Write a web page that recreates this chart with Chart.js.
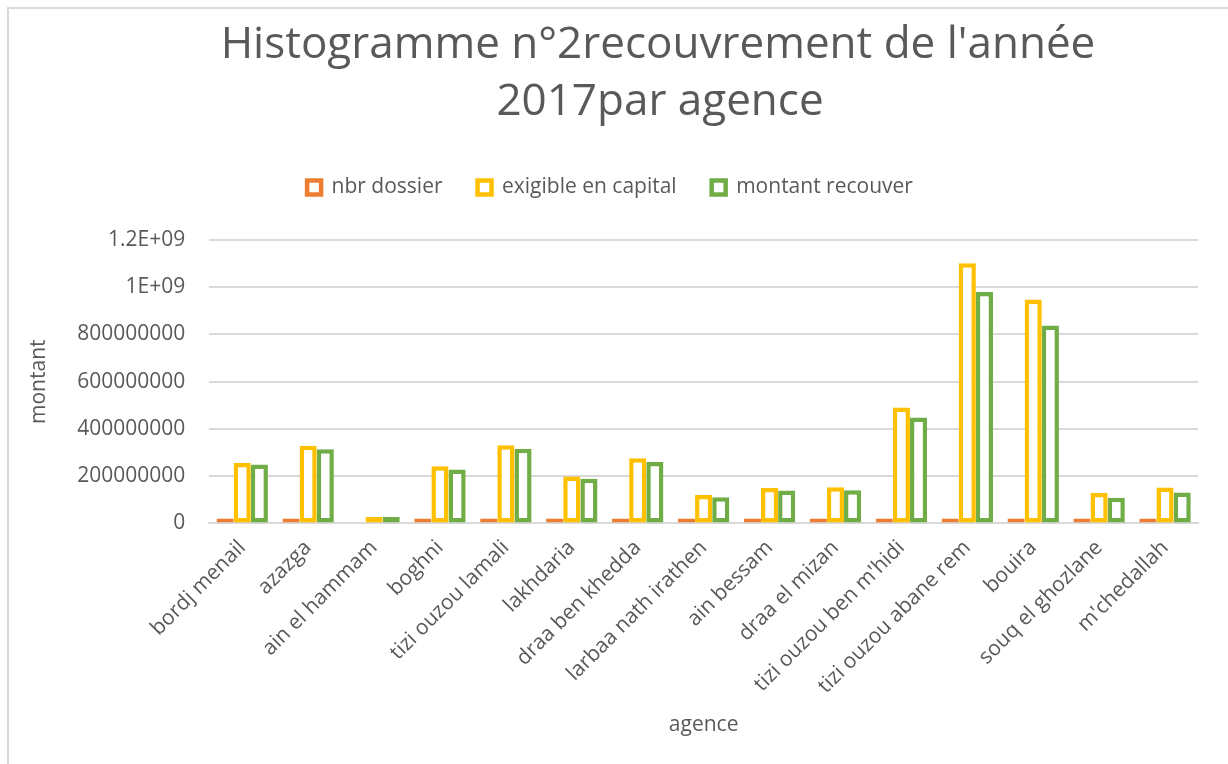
<!DOCTYPE html>
<html>
<head>
  <meta charset="utf-8">
  <title>Histogramme n°2 recouvrement 2017 par agence</title>
  <script src="https://cdn.jsdelivr.net/npm/chart.js@4.4.1/dist/chart.umd.min.js"></script>
  <style>
    html, body { margin: 0; padding: 0; background: #fff; }
    .chart-frame {
      position: absolute;
      left: 7px;
      top: 7px;
      width: 1221px;
      height: 757px;
      border-left: 2px solid #d9d9d9;
      border-top: 2px solid #d9d9d9;
      box-sizing: border-box;
    }
    .chart-box {
      position: absolute;
      left: 0;
      top: 0;
      width: 1228px;
      height: 764px;
    }
  </style>
</head>
<body>
  <div class="chart-frame"></div>
  <div class="chart-box">
    <canvas id="recouvrementChart"></canvas>
  </div>

  <script>
    // Agences (categories)
    const agences = [
      'bordj menail', 'azazga', 'ain el hammam', 'boghni', 'tizi ouzou lamali',
      'lakhdaria', 'draa ben khedda', 'larbaa nath irathen', 'ain bessam',
      'draa el mizan', "tizi ouzou ben m'hidi", 'tizi ouzou abane rem',
      'bouira', 'souq el ghozlane', "m'chedallah"
    ];

    // nbr dossier: counts, far too small to read on this scale (null = no bar)
    const nbrDossier = [350, 400, null, 300, 420, 280, 360, 220, 240, 250, 480, 700, 650, 230, 260];

    // exigible en capital
    const exigibleCapital = [
      256000000, 329000000, 27000000, 242000000, 331000000,
      199000000, 276000000, 120000000, 150000000, 153000000,
      491000000, 1102000000, 948000000, 129000000, 152000000
    ];

    // montant recouver
    const montantRecouver = [
      250000000, 314000000, 27000000, 228000000, 316000000,
      189000000, 260000000, 111000000, 139000000, 141000000,
      448000000, 980000000, 838000000, 109000000, 131000000
    ];

    const yTicks = [0, 200000000, 400000000, 600000000, 800000000, 1000000000, 1200000000];

    const titleLines = ["Histogramme n°2recouvrement de l'année", '2017par agence'];

    const textGray = '#595959';
    const gridGray = '#d9d9d9';
    const fontFamily = '"Open Sans", "Noto Sans", sans-serif';

    // Excel "General" number format: big numbers turn into scientific notation
    function excelGeneral(v) {
      if (Math.abs(v) >= 1e9) {
        const exp = Math.floor(Math.log10(Math.abs(v)));
        const mant = +(v / Math.pow(10, exp)).toFixed(2);
        return mant + 'E+' + String(exp).padStart(2, '0');
      }
      return String(v);
    }

    // Title is centred on the whole Excel chart object, not on the canvas,
    // so it is drawn here; the space for it comes from layout.padding.top
    const excelTitle = {
      id: 'excelTitle',
      afterInit(chart) {
        // leave a gap between the legend row and the plot area
        const legend = chart.legend;
        if (legend && !legend._gapPatched) {
          const fit = legend.fit.bind(legend);
          legend.fit = function () {
            fit();
            this.height += 32;
          };
          legend._gapPatched = true;
        }
      },
      afterDraw(chart) {
        const c = chart.ctx;
        c.save();
        c.fillStyle = textGray;
        c.font = `44px ${fontFamily}`;
        c.textAlign = 'center';
        c.textBaseline = 'middle';
        c.fillText(titleLines[0], 658, 45);
        c.fillText(titleLines[1], 660, 102);
        c.restore();
      }
    };

    const hollowBar = {
      backgroundColor: '#ffffff',
      borderWidth: 4.5,
      borderSkipped: false
    };

    const ctx = document.getElementById('recouvrementChart').getContext('2d');
    new Chart(ctx, {
      type: 'bar',
      data: {
        labels: agences,
        datasets: [
          {
            label: 'nbr dossier',
            data: nbrDossier,
            ...hollowBar,
            borderColor: '#ED7D31',
            minBarLength: 5
          },
          {
            label: 'exigible en capital',
            data: exigibleCapital,
            ...hollowBar,
            borderColor: '#FFC000'
          },
          {
            label: 'montant recouver',
            data: montantRecouver,
            ...hollowBar,
            borderColor: '#70AD47'
          }
        ]
      },
      plugins: [excelTitle],
      options: {
        responsive: true,
        maintainAspectRatio: false,
        animation: false,
        categoryPercentage: 0.78,
        barPercentage: 1.0,
        layout: {
          padding: { left: 22, right: 30, top: 142, bottom: 22 }
        },
        plugins: {
          title: { display: false },
          legend: {
            position: 'top',
            labels: {
              color: textGray,
              font: { family: fontFamily, size: 21 },
              boxWidth: 14,
              boxHeight: 14,
              padding: 35
            }
          },
          tooltip: { enabled: false }
        },
        scales: {
          x: {
            grid: { display: false },
            border: { display: true, color: gridGray, width: 2 },
            ticks: {
              color: textGray,
              font: { family: fontFamily, size: 21 },
              minRotation: 45,
              maxRotation: 45,
              autoSkip: false,
              padding: 4
            },
            title: {
              display: true,
              text: 'agence',
              color: textGray,
              font: { family: fontFamily, size: 21 },
              padding: { top: 10 }
            }
          },
          y: {
            min: 0,
            max: 1200000000,
            afterBuildTicks: axis => {
              axis.ticks = yTicks.map(v => ({ value: v }));
            },
            grid: { color: gridGray, lineWidth: 2, drawTicks: false },
            border: { display: false },
            ticks: {
              color: textGray,
              font: { family: fontFamily, size: 21 },
              padding: 24,
              callback: v => excelGeneral(v)
            },
            title: {
              display: true,
              text: 'montant',
              color: textGray,
              font: { family: fontFamily, size: 21 },
              padding: { bottom: 2 }
            }
          }
        }
      }
    });
  </script>
</body>
</html>
